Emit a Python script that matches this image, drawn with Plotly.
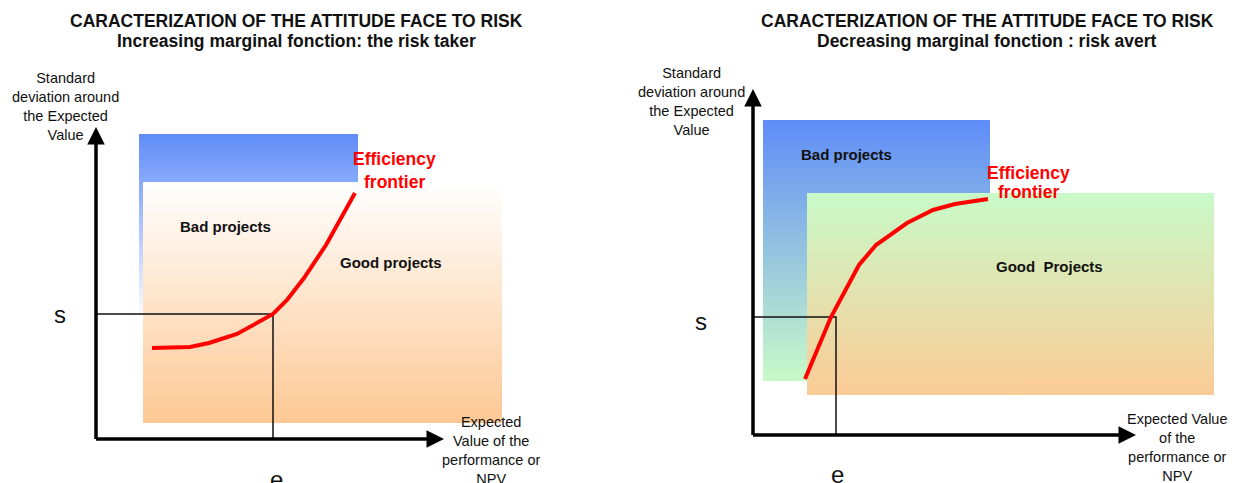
import plotly.graph_objects as go

# diagram units: (0, 0) is where the two axes cross, 1 unit = 10 px
left_bad_x = [4.3, 26.2]
left_bad_y = [11.9, 30.5]
left_good_x = [4.7, 40.6]
left_good_y = [1.6, 25.7]
left_frontier_x = [5.6, 9.4, 11.3, 14.1, 17.7, 19.1, 20.8, 23.0, 25.9]
left_frontier_y = [9.1, 9.2, 9.6, 10.5, 12.5, 13.9, 16.1, 19.4, 24.6]
left_e, left_s = 17.7, 12.5
left_axis_end = [34.8, 31.2]

right_bad_x = [1.0, 23.7]
right_bad_y = [5.4, 31.5]
right_good_x = [5.4, 46.1]
right_good_y = [4.0, 24.2]
right_frontier_x = [5.2, 7.8, 10.6, 12.3, 15.4, 18.0, 20.2, 23.5]
right_frontier_y = [5.6, 11.8, 17.0, 19.0, 21.2, 22.5, 23.1, 23.6]
right_e, right_s = 8.3, 11.8
right_axis_end = [38.3, 34.6]

title = "CARACTERIZATION OF THE ATTITUDE FACE TO RISK"
left_subtitle = "Increasing marginal fonction: the risk taker"
right_subtitle = "Decreasing marginal fonction : risk avert"
y_label = "Standard<br>deviation around<br>the Expected<br>Value"
left_x_label = "Expected<br>Value of the<br>performance or<br>NPV"
right_x_label = "Expected Value<br>of the<br>performance or<br>NPV"

BLUE = "#5f8cf8"
ORANGE = "#fdc894"
GREEN = "#c8fac8"
FONT = "Liberation Sans, Arial, sans-serif"
W, H = 1228, 475  # page body keeps an 8px margin

fig = go.Figure()


def rect(xs, ys, bottom, top, xa, ya):
    x0, x1 = xs
    y0, y1 = ys
    fig.add_trace(go.Scatter(
        x=[x0, x1, x1, x0, x0], y=[y0, y0, y1, y1, y0],
        mode="lines", fill="toself", line=dict(width=0),
        fillgradient=dict(type="vertical", colorscale=[[0, bottom], [1, top]]),
        hoverinfo="skip", xaxis=xa, yaxis=ya))


def panel(xa, ya, fx, fy, e, s, axis_end):
    fig.add_trace(go.Scatter(x=[0, e, e], y=[s, s, 0], mode="lines",
                             line=dict(color="#111", width=1.5),
                             hoverinfo="skip", xaxis=xa, yaxis=ya))
    fig.add_trace(go.Scatter(x=fx, y=fy, mode="lines",
                             line=dict(color="#ff0000", width=4),
                             hoverinfo="skip", xaxis=xa, yaxis=ya))
    for tx, ty, sx, sy in [(axis_end[0], 0, -0.15, 0), (0, axis_end[1], 0, -0.15)]:
        fig.add_annotation(x=tx, y=ty, ax=sx, ay=sy, xref=xa, yref=ya,
                           axref=xa, ayref=ya, text="", showarrow=True,
                           arrowhead=2, arrowsize=1, arrowwidth=3.5,
                           arrowcolor="black", standoff=0)


rect(left_bad_x, left_bad_y, "#ffffff", BLUE, "x", "y")
rect(left_good_x, left_good_y, ORANGE, "#ffffff", "x", "y")
panel("x", "y", left_frontier_x, left_frontier_y, left_e, left_s, left_axis_end)

rect(right_bad_x, right_bad_y, GREEN, BLUE, "x2", "y2")
rect(right_good_x, right_good_y, "#fccb96", GREEN, "x2", "y2")
panel("x2", "y2", right_frontier_x, right_frontier_y, right_e, right_s, right_axis_end)


def label(x, y, text, ref, size=14.5, bold=False, color="#111"):
    fig.add_annotation(x=x, y=y, xref="x" + ref, yref="y" + ref, text=text,
                       showarrow=False, xanchor="center", yanchor="middle",
                       font=dict(family=FONT, size=size, color=color,
                                 weight="bold" if bold else "normal"))


# left panel texts
label(-3.1, 33.3, y_label, "")
label(39.5, -1.15, left_x_label, "")
label(-3.6, 12.5, "s", "", size=24)
label(18.0, -4.0, "e", "", size=24)
label(29.8, 28.0, "Efficiency", "", size=17.5, bold=True, color="#ff0000")
label(29.8, 25.7, "frontier", "", size=17.5, bold=True, color="#ff0000")
label(12.9, 21.3, "Bad projects", "", size=15, bold=True)
label(29.5, 17.7, "Good projects", "", size=15, bold=True)

# right panel texts
label(-6.2, 33.4, y_label, "2")
label(42.4, -1.25, right_x_label, "2")
label(-5.2, 11.4, "s", "2", size=24)
label(8.4, -3.9, "e", "2", size=24)
label(27.5, 26.2, "Efficiency", "2", size=17.5, bold=True, color="#ff0000")
label(27.5, 24.3, "frontier", "2", size=17.5, bold=True, color="#ff0000")
label(9.3, 28.1, "Bad projects", "2", size=15, bold=True)
label(29.6, 16.9, "Good\u00a0 Projects", "2", size=15, bold=True)

for cx, sub in [(288 / W, left_subtitle), (979 / W, right_subtitle)]:
    for yy, txt in [(1 - 13 / H, title), (1 - 33 / H, sub)]:
        fig.add_annotation(x=cx, y=yy, xref="paper", yref="paper", text=txt,
                           showarrow=False, xanchor="center", yanchor="middle",
                           font=dict(family=FONT, size=17.5, color="#111",
                                     weight="bold"))

axis_style = dict(visible=False, fixedrange=True)
fig.update_layout(
    width=W, height=H,
    margin=dict(l=0, r=0, t=0, b=0),
    paper_bgcolor="white", plot_bgcolor="white",
    showlegend=False,
    xaxis=dict(domain=[0, 0.5], range=[-8.8, 52.6], **axis_style),
    yaxis=dict(domain=[0, 1], range=[-4.4, 43.1], **axis_style),
    xaxis2=dict(domain=[0.5, 1], range=[-13.1, 48.3], anchor="y2", **axis_style),
    yaxis2=dict(domain=[0, 1], range=[-4.8, 42.7], anchor="x2", **axis_style),
)

fig.write_html("out.html")
